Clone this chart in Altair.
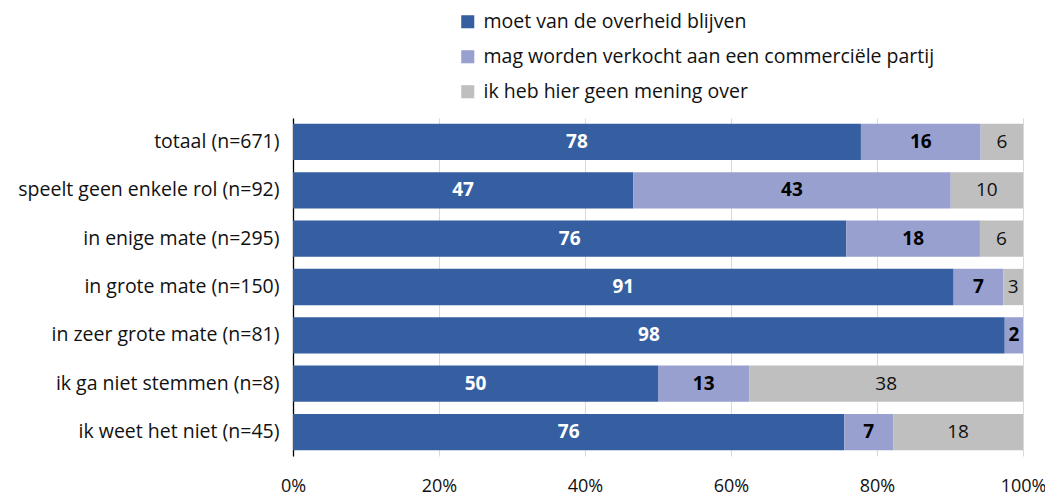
import altair as alt
import pandas as pd

categories = [
    "totaal (n=671)",
    "speelt geen enkele rol (n=92)",
    "in enige mate (n=295)",
    "in grote mate (n=150)",
    "in zeer grote mate (n=81)",
    "ik ga niet stemmen (n=8)",
    "ik weet het niet (n=45)",
]
series = [
    "moet van de overheid blijven",
    "mag worden verkocht aan een commerciële partij",
    "ik heb hier geen mening over",
]
v_overheid = [77.8, 46.6, 75.8, 90.5, 97.5, 50.0, 75.6]
v_verkocht = [16.4, 43.5, 18.3, 6.8, 2.5, 12.5, 6.7]
v_geen = [5.8, 9.9, 5.9, 2.7, 0.0, 37.5, 17.8]
labels_overheid = [78, 47, 76, 91, 98, 50, 76]
labels_verkocht = [16, 43, 18, 7, 2, 13, 7]
labels_geen = [6, 10, 6, 3, 0, 38, 18]
colors = ["#365FA1", "#97A0CF", "#BFBFBF"]

rows = []
for i, c in enumerate(categories):
    for s, (vals, labs) in enumerate(
        [(v_overheid, labels_overheid), (v_verkocht, labels_verkocht), (v_geen, labels_geen)]
    ):
        rows.append({"cat": c, "series": series[s], "order": s,
                     "value": vals[i], "label": str(labs[i])})
df = pd.DataFrame(rows)

FONT = "Open Sans"
FS = 19.5
FSB = 19

base = alt.Chart(df).transform_stack(
    stack="value", groupby=["cat"], as_=["start", "end"],
    sort=[alt.SortField("order", order="ascending")],
).transform_joinaggregate(
    total="sum(value)", groupby=["cat"]
).transform_calculate(
    s0="datum.start / datum.total",
    s1="datum.end / datum.total",
    mid="(datum.start + datum.end) / 2 / datum.total",
)

yenc = alt.Y("cat:N", sort=categories, title=None,
             scale=alt.Scale(paddingInner=0.25, paddingOuter=0.12),
             axis=alt.Axis(domainColor="black", domainWidth=1.3, ticks=False,
                           labelFontSize=FS, labelColor="#111111", labelFont=FONT,
                           labelPadding=14, labelLimit=400))

xscale = alt.Scale(domain=[0, 1])

bars = base.mark_bar().encode(
    x=alt.X("s0:Q", scale=xscale, title=None,
            axis=alt.Axis(format="%", values=[0, 0.2, 0.4, 0.6, 0.8, 1.0],
                          grid=True, gridColor="#D9D9D9", ticks=False, domain=False,
                          labelFontSize=18, labelColor="#111111", labelFont=FONT,
                          labelPadding=21, labelFlush=False)),
    x2="s1:Q",
    y=yenc,
    color=alt.Color("series:N", sort=series,
                    scale=alt.Scale(domain=series, range=colors),
                    legend=alt.Legend(title=None, orient="none", legendX=165, legendY=-106,
                                      symbolType="square", symbolSize=170,
                                      symbolStrokeWidth=0, labelFontSize=FS,
                                      labelFont=FONT, labelColor="#111111",
                                      labelLimit=700, rowPadding=14, labelOffset=6)),
)

bold_text = base.transform_filter("datum.order < 2 && datum.value > 0").mark_text(
    fontSize=FSB, fontWeight="bold", font=FONT, baseline="middle"
).encode(
    x=alt.X("mid:Q", scale=xscale),
    y=alt.Y("cat:N", sort=categories),
    text="label:N",
    color=alt.condition("datum.order == 0", alt.value("white"), alt.value("black")),
)

plain_text = base.transform_filter("datum.order == 2 && datum.value > 0").mark_text(
    fontSize=FSB, font=FONT, baseline="middle", color="#111111"
).encode(
    x=alt.X("mid:Q", scale=xscale),
    y=alt.Y("cat:N", sort=categories),
    text="label:N",
)

chart = alt.layer(bars, bold_text, plain_text).properties(
    width=730, height=338,
    autosize=alt.AutoSizeParams(type="none"),
    padding={"left": 285, "top": 110, "right": 22, "bottom": 42},
).configure_view(stroke=None)

chart.save("out.html", embed_options={"renderer": "svg", "actions": False})
